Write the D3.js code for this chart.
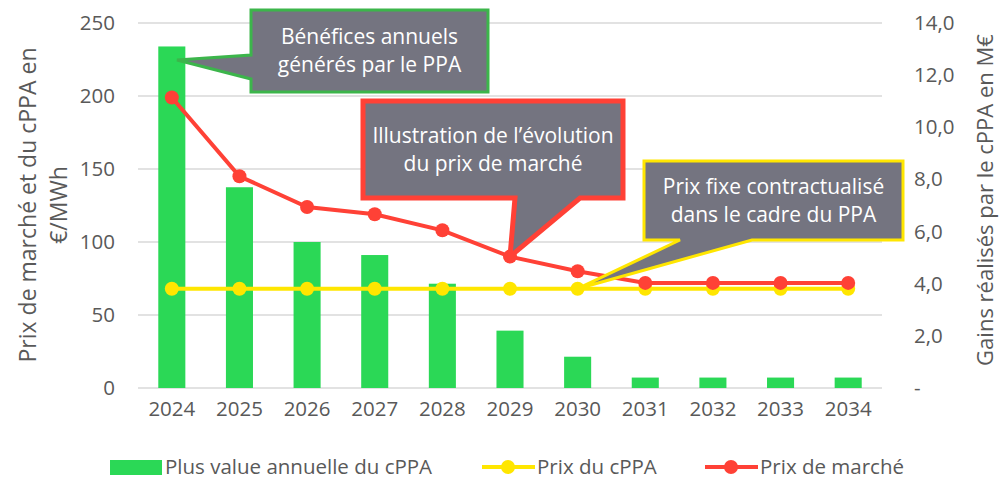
<!DOCTYPE html>
<html>
<head>
<meta charset="utf-8">
<script src="https://cdn.jsdelivr.net/npm/d3@7"></script>
<style>
  body { margin: 0; background: #fff; }
  text { font-family: "Open Sans", sans-serif; }
</style>
</head>
<body>
<div id="chart"></div>
<script>
// data
var years = ["2024", "2025", "2026", "2027", "2028", "2029", "2030", "2031", "2032", "2033", "2034"];
var gains = [13.1, 7.7, 5.6, 5.1, 4.0, 2.2, 1.2, 0.4, 0.4, 0.4, 0.4]; // M€, right axis
var prixCppa = [68, 68, 68, 68, 68, 68, 68, 68, 68, 68, 68]; // €/MWh
var prixMarche = [199, 145, 124, 119, 108, 90, 80, 72, 72, 72, 72]; // €/MWh
var leftTicks = [0, 50, 100, 150, 200, 250];
var rightTicks = [0, 2, 4, 6, 8, 10, 12, 14];

var width = 1002,
  height = 482;

var svg = d3.select("#chart").append("svg").attr("width", width).attr("height", height);

var x = d3.scaleBand().domain(years).range([138, 882]).paddingInner(0.6).paddingOuter(0.3);
var yL = d3.scaleLinear().domain([0, 250]).range([388, 23]);
var yR = d3.scaleLinear().domain([0, 14]).range([388, 23]);

var textCol = "#595959";

// gridlines
svg
  .append("g")
  .selectAll("line")
  .data(leftTicks)
  .enter()
  .append("line")
  .attr("x1", 138)
  .attr("x2", 882)
  .attr("y1", function (d) { return yL(d); })
  .attr("y2", function (d) { return yL(d); })
  .attr("stroke", "#d9d9d9")
  .attr("stroke-width", 1.5);

// axes (tick labels only)
var axL = svg
  .append("g")
  .attr("transform", "translate(138,0)")
  .call(d3.axisLeft(yL).tickValues(leftTicks).tickSize(0).tickPadding(23));
var axR = svg
  .append("g")
  .attr("transform", "translate(882,0)")
  .call(
    d3
      .axisRight(yR)
      .tickValues(rightTicks)
      .tickSize(0)
      .tickPadding(32)
      .tickFormat(function (d) {
        return d === 0 ? "-" : d.toFixed(1).replace(".", ",");
      })
  );
var axB = svg
  .append("g")
  .attr("transform", "translate(0,388)")
  .call(d3.axisBottom(x).tickSize(0).tickPadding(13));
[axL, axR, axB].forEach(function (a) {
  a.select(".domain").remove();
  a.selectAll("text").attr("fill", textCol).style("font-size", "20.5px").style("font-family", "Open Sans");
});

// axis titles
svg
  .append("text")
  .attr("transform", "translate(36,205) rotate(-90)")
  .attr("text-anchor", "middle")
  .attr("fill", textCol)
  .style("font-size", "23px")
  .text("Prix de marché et du cPPA en");
svg
  .append("text")
  .attr("transform", "translate(67,205) rotate(-90)")
  .attr("text-anchor", "middle")
  .attr("fill", textCol)
  .style("font-size", "23px")
  .text("€/MWh");
svg
  .append("text")
  .attr("transform", "translate(993,200) rotate(-90)")
  .attr("text-anchor", "middle")
  .attr("fill", textCol)
  .style("font-size", "22px")
  .text("Gains réalisés par le cPPA en M€");

// bars
svg
  .selectAll(".bar")
  .data(gains)
  .enter()
  .append("rect")
  .attr("class", "bar")
  .attr("x", function (d, i) { return x(years[i]); })
  .attr("width", x.bandwidth())
  .attr("y", function (d) { return yR(d); })
  .attr("height", function (d) { return yR(0) - yR(d); })
  .attr("fill", "#2bd856");

// lines
var cx = function (d, i) { return x(years[i]) + x.bandwidth() / 2; };
function drawLine(values, color) {
  var line = d3.line().x(cx).y(function (d) { return yL(d); });
  svg.append("path").datum(values).attr("d", line).attr("fill", "none").attr("stroke", color).attr("stroke-width", 4);
  svg
    .append("g")
    .selectAll("circle")
    .data(values)
    .enter()
    .append("circle")
    .attr("cx", cx)
    .attr("cy", function (d) { return yL(d); })
    .attr("r", 7)
    .attr("fill", color);
}
drawLine(prixCppa, "#ffe600");
drawLine(prixMarche, "#ff4136");

// callouts
function callout(box, tip, base, color, sw, lines, side) {
  var x0 = box[0], y0 = box[1], x1 = box[2], y1 = box[3];
  var pts;
  if (side === "left") {
    pts = [[x0, y0], [x1, y0], [x1, y1], [x0, y1], [x0, base[1]], tip, [x0, base[0]]];
  } else {
    pts = [[x0, y0], [x1, y0], [x1, y1], [base[1], y1], tip, [base[0], y1], [x0, y1]];
  }
  svg
    .append("path")
    .attr("d", "M" + pts.join("L") + "Z")
    .attr("fill", "#747480")
    .attr("stroke", color)
    .attr("stroke-width", sw)
    .attr("stroke-linejoin", "miter");
  var cxm = (x0 + x1) / 2,
    cym = (y0 + y1) / 2;
  lines.forEach(function (t, i) {
    svg
      .append("text")
      .attr("x", cxm)
      .attr("y", cym + (i - (lines.length - 1) / 2) * 28)
      .attr("dy", "0.35em")
      .attr("text-anchor", "middle")
      .attr("fill", "#fff")
      .style("font-size", "21px")
      .text(t);
  });
}

callout([251, 10, 488, 92], [177, 60], [55, 79], "#3cb54b", 3, ["Bénéfices annuels", "générés par le PPA"], "left");
callout([363, 101, 623, 198], [cx(0, 5), yL(prixMarche[5])], [515, 580], "#ff4136", 5, ["Illustration de l’évolution", "du prix de marché"], "bottom");
callout([644, 161, 903, 240], [cx(0, 6), yL(prixCppa[6])], [680, 752], "#ffe600", 3, ["Prix fixe contractualisé", "dans le cadre du PPA"], "bottom");

// legend
var lg = svg.append("g").attr("transform", "translate(0,467)");
lg.append("rect").attr("x", 110).attr("y", -7).attr("width", 52).attr("height", 15).attr("fill", "#2bd856");
lg.append("text").attr("x", 165).attr("dy", "0.35em").attr("fill", textCol).style("font-size", "20.5px").text("Plus value annuelle du cPPA");
[[482, "#ffe600", "Prix du cPPA"], [705, "#ff4136", "Prix de marché"]].forEach(function (d) {
  lg.append("line").attr("x1", d[0]).attr("x2", d[0] + 53).attr("stroke", d[1]).attr("stroke-width", 4);
  lg.append("circle").attr("cx", d[0] + 26).attr("r", 7).attr("fill", d[1]);
  lg.append("text").attr("x", d[0] + 55).attr("dy", "0.35em").attr("fill", textCol).style("font-size", "20.5px").text(d[2]);
});
</script>
</body>
</html>
